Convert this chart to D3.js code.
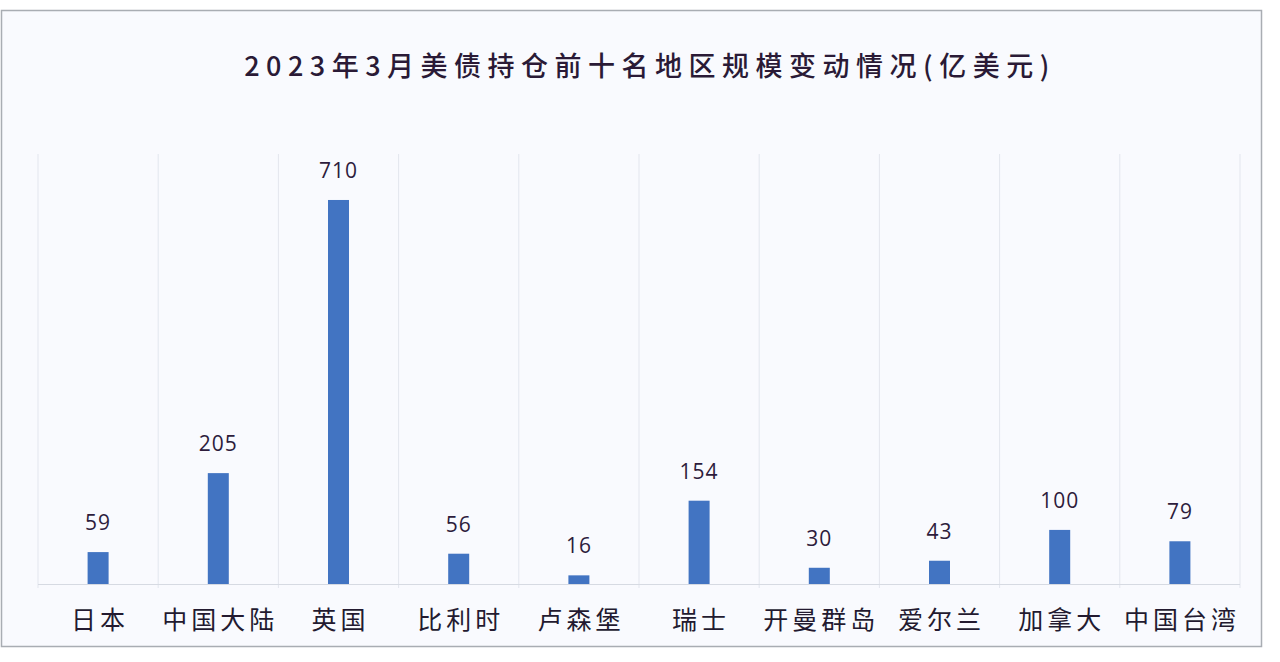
<!DOCTYPE html>
<html>
<head>
<meta charset="utf-8">
<script src="https://cdn.jsdelivr.net/npm/d3@7"></script>
<style>
  body { margin: 0; background: #ffffff; }
</style>
</head>
<body>
<div id="chart"></div>
<script>
// Data
const regions = ["日本", "中国大陆", "英国", "比利时", "卢森堡", "瑞士", "开曼群岛", "爱尔兰", "加拿大", "中国台湾"];
const changes = [59, 205, 710, 56, 16, 154, 30, 43, 100, 79];
const yDomain = [0, 795];

const width = 1280;
const height = 662;
const margin = { top: 154, right: 40, bottom: 78, left: 38 };

const svg = d3.select("#chart")
    .append("svg")
    .attr("width", width)
    .attr("height", height);

// Frame
svg.append("rect")
    .attr("x", 1.5)
    .attr("y", 10.5)
    .attr("width", 1260)
    .attr("height", 636)
    .attr("fill", "#f9fafe")
    .attr("stroke", "#a9adb3")
    .attr("stroke-width", 1.5);

const x = d3.scaleBand()
    .domain(regions)
    .range([margin.left, width - margin.right])
    .padding(0);

const y = d3.scaleLinear()
    .domain(yDomain)
    .range([height - margin.bottom, margin.top]);

// Vertical separators
const edges = regions.map(d => x(d)).concat([x.range()[1]]);
svg.append("g")
    .selectAll("line")
    .data(edges)
    .join("line")
    .attr("x1", d => d)
    .attr("x2", d => d)
    .attr("y1", margin.top)
    .attr("y2", height - margin.bottom + 4)
    .attr("stroke", "#e3e6ee")
    .attr("stroke-width", 1);

// Baseline
svg.append("line")
    .attr("x1", x.range()[0])
    .attr("x2", x.range()[1])
    .attr("y1", y(0) + 0.5)
    .attr("y2", y(0) + 0.5)
    .attr("stroke", "#d6dae2");

const barW = 21;
const data = regions.map((r, i) => ({ region: r, value: changes[i] }));

svg.append("g")
    .selectAll("rect")
    .data(data)
    .join("rect")
    .attr("x", d => x(d.region) + x.bandwidth() / 2 - barW / 2)
    .attr("y", d => y(d.value))
    .attr("width", barW)
    .attr("height", d => y(0) - y(d.value))
    .attr("fill", "#4274c2");

// Value labels
svg.append("g")
    .selectAll("text")
    .data(data)
    .join("text")
    .attr("x", d => x(d.region) + x.bandwidth() / 2)
    .attr("y", d => y(d.value) - 22)
    .attr("text-anchor", "middle")
    .style("font-family", "'Open Sans', 'DejaVu Sans', sans-serif")
    .style("font-size", "21px")
    .style("letter-spacing", "1px")
    .style("fill", "#2d1c3c")
    .text(d => d.value);

// Category labels
svg.append("g")
    .selectAll("text")
    .data(regions)
    .join("text")
    .attr("x", d => x(d) + x.bandwidth() / 2 + 2)
    .attr("y", 629)
    .attr("text-anchor", "middle")
    .style("font-family", "'Noto Sans CJK SC', sans-serif")
    .style("font-size", "25px")
    .style("letter-spacing", "4px")
    .style("fill", "#231a30")
    .text(d => d);

// Title
svg.append("text")
    .attr("x", 650)
    .attr("y", 76)
    .attr("text-anchor", "middle")
    .style("font-family", "'Noto Sans CJK SC', sans-serif")
    .style("font-size", "27px")
    .style("font-weight", "500")
    .style("letter-spacing", "6.5px")
    .style("fill", "#2a1a36")
    .text("2023年3月美债持仓前十名地区规模变动情况(亿美元)");
</script>
</body>
</html>
